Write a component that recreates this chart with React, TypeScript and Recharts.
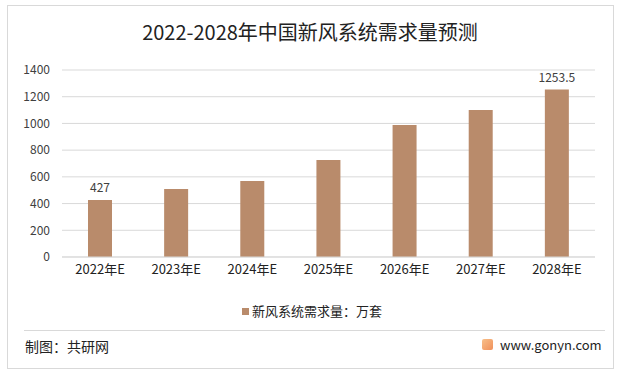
import React from 'react';
import { BarChart, Bar, XAxis, YAxis, CartesianGrid, LabelList } from 'recharts';

const years = ['2022年E', '2023年E', '2024年E', '2025年E', '2026年E', '2027年E', '2028年E'];
const demand = [427, 509, 569, 726, 988, 1100, 1253.5];
const yTicks = [0, 200, 400, 600, 800, 1000, 1200, 1400];
const shownLabels = [0, 6];

const data = years.map((name, i) => ({ name, value: demand[i] }));

const FONT = '"Noto Sans CJK SC", "Noto Sans", sans-serif';
const BAR_COLOR = '#B98B6B';

const ValueLabel = (props: any) => {
  const { x, y, width, index, value } = props;
  if (!shownLabels.includes(index)) return null;
  return (
    <text x={x + width / 2} y={y - 8} textAnchor="middle" fontSize={12} fill="#404040" fontFamily={FONT}>
      {value}
    </text>
  );
};

export default function App() {
  return (
    <div style={{ position: 'absolute', left: 0, top: 0, width: 620, height: 375, background: '#fff', fontFamily: FONT }}>
      <div style={{ position: 'absolute', left: 7, top: 5, width: 605, height: 362, border: '1px solid #d9d9d9' }} />
      <div style={{ position: 'absolute', left: 0, top: 18, width: 620, textAlign: 'center', fontSize: 20, color: '#222', lineHeight: '28px' }}>
        2022-2028年中国新风系统需求量预测
      </div>
      <div style={{ position: 'absolute', left: 0, top: 0 }}>
        <BarChart width={620} height={300} data={data} margin={{ top: 70, right: 25, left: 22, bottom: 13 }}>
          <CartesianGrid vertical={false} stroke="#d9d9d9" />
          <XAxis
            dataKey="name"
            axisLine={{ stroke: '#d9d9d9' }}
            tickLine={false}
            height={30}
            tick={{ fontSize: 13, fill: '#222', fontFamily: FONT }}
          />
          <YAxis
            domain={[0, 1400]}
            ticks={yTicks}
            axisLine={false}
            tickLine={false}
            width={40}
            tickMargin={6}
            tick={{ fontSize: 12, fill: '#404040', fontFamily: FONT }}
          />
          <Bar dataKey="value" fill={BAR_COLOR} barSize={24} isAnimationActive={false}>
            <LabelList dataKey="value" content={<ValueLabel />} />
          </Bar>
        </BarChart>
      </div>
      <div style={{ position: 'absolute', left: 242, top: 302, display: 'flex', alignItems: 'center', fontSize: 13, color: '#222', lineHeight: '18px' }}>
        <span style={{ display: 'inline-block', width: 7, height: 7, background: BAR_COLOR, marginRight: 3 }} />
        新风系统需求量：万套
      </div>
      <div style={{ position: 'absolute', left: 24, top: 330, width: 581, height: 1, background: '#d9d9d9' }} />
      <div style={{ position: 'absolute', left: 25, top: 336, fontSize: 14, color: '#222', lineHeight: '20px' }}>
        制图：共研网
      </div>
      <div style={{ position: 'absolute', left: 482, top: 339, width: 11, height: 11, background: 'linear-gradient(135deg, #f8c08a, #f0905a)', borderRadius: 2 }} />
      <div style={{ position: 'absolute', left: 500, top: 335, fontSize: 13, color: '#222', lineHeight: '20px' }}>
        www.gonyn.com
      </div>
    </div>
  );
}
